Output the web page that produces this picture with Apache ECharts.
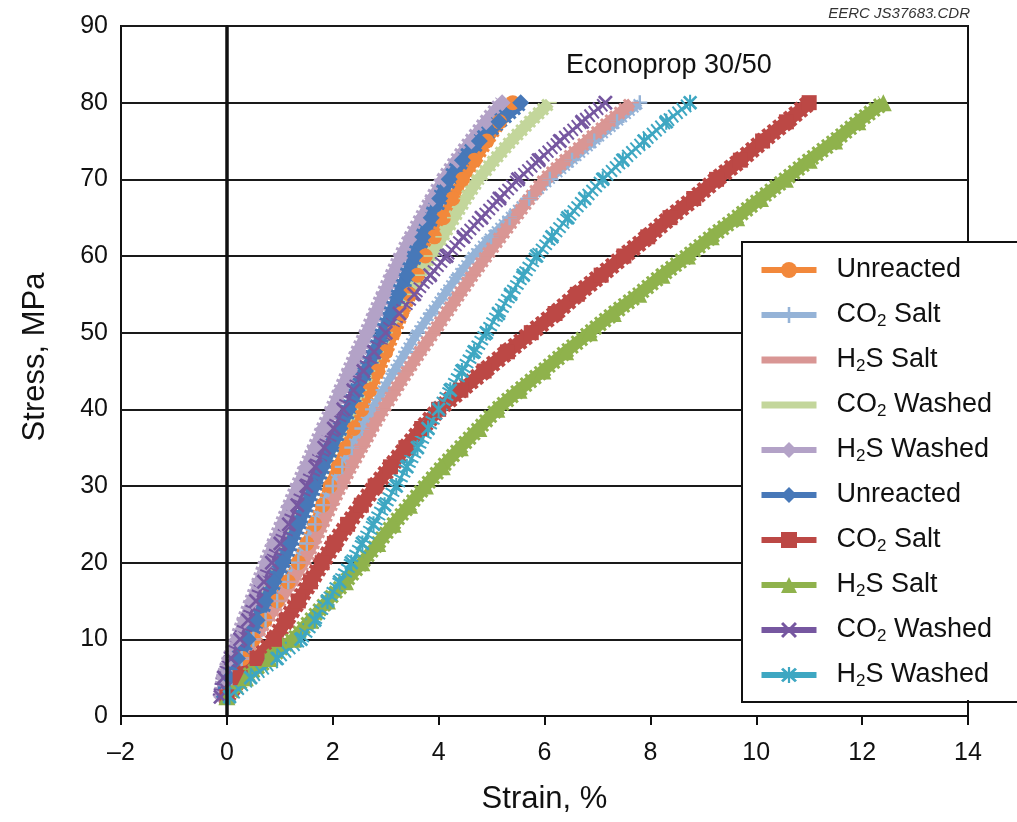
<!DOCTYPE html>
<html><head><meta charset="utf-8">
<script src="https://cdn.jsdelivr.net/npm/echarts@6/dist/echarts.min.js"></script>
<style>html,body{margin:0;padding:0;background:#fff}#c{width:1017px;height:822px}</style>
</head><body><div id="c"></div>
<script>
// ---- data (stress in MPa, strain in %) ----
const STRESS = [2.5,5,7.5,10,12.5,15,17.5,20,22.5,25,27.5,30,32.5,35,37.5,40,42.5,45,47.5,50,52.5,55,57.5,60,62.5,65,67.5,70,72.5,75,77.5,80];

const UNREACTED_A = [0.00,0.12,0.30,0.50,0.72,0.95,1.16,1.35,1.51,1.66,1.81,1.95,2.10,2.25,2.40,2.55,2.70,2.85,3.00,3.15,3.30,3.45,3.60,3.75,3.92,4.09,4.27,4.45,4.68,4.91,5.15,5.40];
const CO2_SALT_A = [0.00,0.10,0.28,0.50,0.73,0.95,1.16,1.35,1.51,1.67,1.83,2.00,2.18,2.36,2.55,2.75,2.95,3.16,3.38,3.60,3.85,4.11,4.37,4.65,4.99,5.34,5.71,6.10,6.52,6.94,7.37,7.80];
const H2S_SALT_A = [0.00,0.10,0.28,0.50,0.75,1.00,1.24,1.45,1.63,1.80,1.97,2.15,2.34,2.54,2.74,2.95,3.18,3.41,3.65,3.90,4.14,4.39,4.64,4.90,5.17,5.44,5.72,6.00,6.39,6.80,7.22,7.65];
const CO2_WASHED_A = [-0.05,0.03,0.17,0.35,0.51,0.67,0.84,1.00,1.16,1.33,1.49,1.65,1.82,1.99,2.17,2.35,2.51,2.67,2.83,3.00,3.20,3.41,3.62,3.85,4.07,4.29,4.51,4.75,5.05,5.37,5.72,6.10];
const H2S_WASHED_A = [-0.10,-0.05,0.06,0.20,0.34,0.48,0.62,0.75,0.90,1.05,1.20,1.35,1.51,1.67,1.83,2.00,2.16,2.32,2.48,2.65,2.81,2.97,3.13,3.30,3.49,3.69,3.89,4.10,4.35,4.62,4.90,5.20];
const UNREACTED_B = [-0.05,0.05,0.20,0.40,0.57,0.73,0.89,1.05,1.20,1.35,1.50,1.65,1.81,1.97,2.14,2.30,2.46,2.62,2.79,2.95,3.10,3.25,3.40,3.55,3.70,3.86,4.02,4.20,4.45,4.77,5.14,5.55];
const CO2_SALT_B = [0.00,0.25,0.57,0.90,1.12,1.35,1.58,1.80,2.03,2.28,2.54,2.80,3.09,3.38,3.68,4.00,4.42,4.86,5.30,5.75,6.20,6.62,7.07,7.50,7.95,8.37,8.82,9.25,9.70,10.12,10.57,11.00];
const H2S_SALT_B = [0.00,0.35,0.80,1.25,1.58,1.90,2.24,2.55,2.85,3.14,3.45,3.75,4.07,4.41,4.76,5.10,5.52,5.97,6.40,6.85,7.30,7.78,8.22,8.70,9.15,9.63,10.08,10.55,11.00,11.48,11.92,12.40];
const CO2_WASHED_B = [-0.12,-0.06,0.08,0.25,0.40,0.55,0.70,0.85,1.01,1.17,1.33,1.50,1.67,1.84,2.02,2.20,2.39,2.58,2.78,3.00,3.26,3.54,3.84,4.15,4.47,4.81,5.15,5.50,5.89,6.29,6.71,7.15];
const H2S_WASHED_B = [0.05,0.45,0.95,1.40,1.66,1.90,2.13,2.35,2.56,2.77,2.98,3.20,3.40,3.60,3.80,4.00,4.22,4.44,4.67,4.90,5.13,5.36,5.60,5.85,6.14,6.44,6.76,7.10,7.48,7.88,8.30,8.75];

const SERIES_NAMES = ['Unreacted (A)','CO2 Salt (A)','H2S Salt (A)','CO2 Washed (A)','H2S Washed (A)','Unreacted (B)','CO2 Salt (B)','H2S Salt (B)','CO2 Washed (B)','H2S Washed (B)'];
const LEGEND_LABELS = ['Unreacted','CO{s|2} Salt','H{s|2}S Salt','CO{s|2} Washed','H{s|2}S Washed','Unreacted','CO{s|2} Salt','H{s|2}S Salt','CO{s|2} Washed','H{s|2}S Washed'];
const STRAINS = [UNREACTED_A,CO2_SALT_A,H2S_SALT_A,CO2_WASHED_A,H2S_WASHED_A,UNREACTED_B,CO2_SALT_B,H2S_SALT_B,CO2_WASHED_B,H2S_WASHED_B];
const X_RANGE = [-2, 14, 2];
const Y_RANGE = [0, 90, 10];

// ---- styles ----
const COLORS = ['#F2883B','#95B3D7','#D99694','#C3D69B','#B3A2C7','#4778B8','#BC4845','#8FB24C','#7657A0','#3EA7C2'];
const P_PLUS = 'path://M4.2,0h1.6v4.2h4.2v1.6h-4.2v4.2h-1.6v-4.2h-4.2v-1.6h4.2z';
const P_X = 'path://M0,1.3L1.3,0L5,3.7L8.7,0L10,1.3L6.3,5L10,8.7L8.7,10L5,6.3L1.3,10L0,8.7L3.7,5z';
const P_AST = 'path://M0,1.3L1.3,0L5,3.7L8.7,0L10,1.3L6.3,5L10,8.7L8.7,10L5,6.3L1.3,10L0,8.7L3.7,5zM4.3,-0.5h1.4v11h-1.4z';
const P_DASH = 'path://M0,0h10v3.2h-10z';
const STYLE = [
  {symbol:'circle', size:15, width:11, band:15, dash:[3,3]},
  {symbol:P_PLUS, size:15, width:8, band:13, dash:[2,3]},
  {symbol:P_DASH, size:[14,5], width:11, band:15, dash:[3,3], legendDash:true},
  {symbol:P_DASH, size:[14,5], width:11, band:15, dash:[3,3], legendDash:true},
  {symbol:'diamond', size:17, width:12, band:17, dash:[3,3]},
  {symbol:'diamond', size:17, width:12, band:17, dash:[3,3]},
  {symbol:'rect', size:15, width:13, band:18, dash:[4,3]},
  {symbol:'triangle', size:17, width:12, band:17, dash:[3,3]},
  {symbol:P_X, size:15, width:3, band:16, dash:[2,3.5]},
  {symbol:P_AST, size:16, width:3, band:16, dash:[2,3.5]}
];

const series = [{
  type:'line', name:'_zero', data:[], silent:true,
  markLine:{silent:true, symbol:'none', label:{show:false},
    lineStyle:{color:'#111', width:3.5, type:'solid'}, data:[{xAxis:0}]}
}];
SERIES_NAMES.forEach((name,i)=>{
  const data = STRESS.map((s,k)=>[STRAINS[i][k], s]);
  const st = STYLE[i];
  series.push({
    type:'line', name:name+' band', data:data, silent:true, symbol:'none', showSymbol:false,
    lineStyle:{color:COLORS[i], width:st.band, type:st.dash, cap:'butt'}, z:2
  });
  series.push({
    type:'line', name:name, data:data, symbol:st.symbol, symbolSize:st.size,
    symbolKeepAspect:true, showSymbol:true, showAllSymbol:true,
    itemStyle:{color:COLORS[i]}, lineStyle:{color:COLORS[i], width:st.width}, z:2
  });
});

const legendData = SERIES_NAMES.map((name,i)=> STYLE[i].legendDash
  ? {name:name, itemStyle:{opacity:0}, lineStyle:{width:7}}
  : {name:name});

const FONT = 'Liberation Sans, Arial, sans-serif';
const chart = echarts.init(document.getElementById('c'), null, {renderer:'canvas'});
chart.setOption({
  animation:false,
  backgroundColor:'#fff',
  title:[
    {text:'Econoprop 30/50', left:566, top:52, padding:0,
     textStyle:{fontFamily:FONT, fontSize:27, fontWeight:'normal', color:'#111'}},
    {text:'EERC JS37683.CDR', right:47, top:6, padding:0,
     textStyle:{fontFamily:FONT, fontSize:15, fontStyle:'italic', fontWeight:'normal', color:'#333'}}
  ],
  grid:{left:121, right:49, top:26, bottom:106, show:true, borderColor:'#111', borderWidth:2, backgroundColor:'transparent'},
  xAxis:{
    type:'value', min:X_RANGE[0], max:X_RANGE[1], interval:X_RANGE[2],
    name:'Strain, %', nameLocation:'middle', nameGap:68,
    nameTextStyle:{fontFamily:FONT, fontSize:31, color:'#111'},
    axisLine:{show:true, onZero:false, lineStyle:{color:'#111', width:2}},
    axisTick:{show:true, inside:false, length:9, lineStyle:{color:'#111', width:2}},
    axisLabel:{fontFamily:FONT, fontSize:25, color:'#111', margin:25,
      formatter:v=> v<0 ? '\u2013'+Math.abs(v) : String(v)},
    splitLine:{show:false}
  },
  yAxis:{
    type:'value', min:Y_RANGE[0], max:Y_RANGE[1], interval:Y_RANGE[2],
    name:'Stress, MPa', nameLocation:'middle', nameGap:70,
    nameTextStyle:{fontFamily:FONT, fontSize:31, color:'#111', padding:[0,0,0,28]},
    axisLine:{show:true, lineStyle:{color:'#111', width:2}},
    axisTick:{show:false},
    axisLabel:{fontFamily:FONT, fontSize:25, color:'#111', margin:13},
    splitLine:{show:true, lineStyle:{color:'#1a1a1a', width:2}}
  },
  legend:{
    data:legendData, orient:'vertical', left:758, top:255, padding:0, z:10,
    itemWidth:55, itemHeight:20, itemGap:15,
    lineStyle:{width:6}, selectedMode:false,
    formatter:name=>LEGEND_LABELS[SERIES_NAMES.indexOf(name)],
    textStyle:{fontFamily:FONT, fontSize:27, color:'#111', lineHeight:30, padding:[0,0,0,15],
      rich:{s:{fontFamily:FONT, fontSize:17, color:'#111', lineHeight:14, verticalAlign:'bottom'}}}
  },
  graphic:[
    {type:'rect', left:742, top:242, z:8, silent:true,
     shape:{width:274, height:458}, style:{fill:'#fff'}},
    {type:'rect', left:741, top:241, z:9, silent:true,
     shape:{width:276, height:460}, style:{fill:'transparent', stroke:'#111', lineWidth:2}}
  ],
  series:series
});
</script></body></html>
